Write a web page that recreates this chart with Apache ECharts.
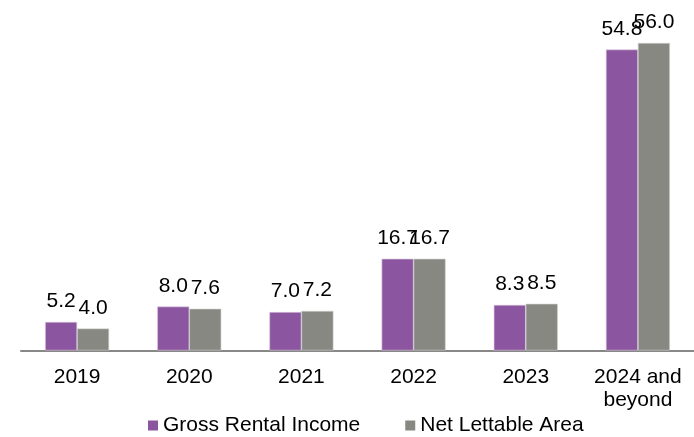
<!DOCTYPE html>
<html><head><meta charset="utf-8">
<script src="https://cdn.jsdelivr.net/npm/echarts@6/dist/echarts.min.js"></script>
<style>html,body{margin:0;padding:0;background:#fff}#c{width:694px;height:437px}</style>
</head><body><div id="c"></div>
<script>
var categories = ['2019', '2020', '2021', '2022', '2023', '2024 and\nbeyond'];
var grossRentalIncome = [5.2, 8.0, 7.0, 16.7, 8.3, 54.8];
var netLettableArea = [4.0, 7.6, 7.2, 16.7, 8.5, 56.0];
var seriesNames = ['Gross Rental Income', 'Net Lettable Area'];
var colors = ['#8B559F', '#878882'];

var chart = echarts.init(document.getElementById('c'), null, {renderer: 'canvas'});
var font = '"Liberation Sans", Arial, sans-serif';
var labelCfg = {show: true, position: 'top', distance: 10, color: '#000', fontSize: 21, fontFamily: font,
  formatter: function(p){ return p.value.toFixed(1); }};
chart.setOption({
  animation: false,
  backgroundColor: '#fff',
  grid: {left: 21, right: -5, top: 21, bottom: 86.5},
  legend: {
    data: seriesNames, left: 148, top: 415, padding: 0, itemWidth: 10, itemHeight: 10, itemGap: 45,
    icon: 'rect', itemStyle: {borderWidth: 0},
    textStyle: {fontSize: 21, fontFamily: font, color: '#000'}
  },
  xAxis: {
    type: 'category', data: categories,
    axisLine: {lineStyle: {color: '#888', width: 2}},
    axisTick: {show: false},
    axisLabel: {color: '#000', fontSize: 21, fontFamily: font, margin: 15, lineHeight: 23, interval: 0}
  },
  yAxis: {type: 'value', min: 0, max: 60, show: false, splitLine: {show: false}},
  series: [
    {name: seriesNames[0], type: 'bar', data: grossRentalIncome, barWidth: 32, barGap: '0%',
     itemStyle: {color: colors[0], borderColor: '#d8c8de', borderWidth: 0.6}, label: labelCfg},
    {name: seriesNames[1], type: 'bar', data: netLettableArea, barWidth: 32, barGap: '0%',
     itemStyle: {color: colors[1], borderColor: '#d0d0cc', borderWidth: 0.6}, label: labelCfg}
  ]
});
</script></body></html>
